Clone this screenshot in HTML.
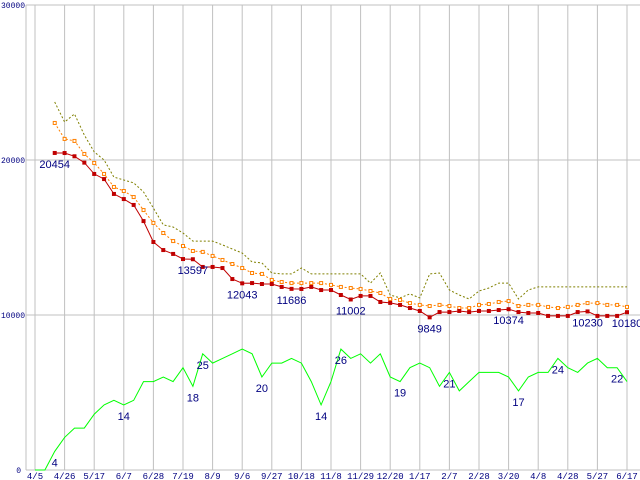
<!DOCTYPE html>
<html><head><meta charset="utf-8"><style>
html,body{margin:0;padding:0;background:#fff;}
svg{display:block;font-family:"Liberation Sans",sans-serif;}
</style></head><body>
<svg id="chart" width="640" height="480" viewBox="0 0 640 480" xmlns="http://www.w3.org/2000/svg"></svg>
<script>
const xTickLabels=["4/5","4/26","5/17","6/7","6/28","7/19","8/9","9/6","9/27","10/18","11/8","11/29","12/20","1/17","2/7","2/28","3/20","4/8","4/28","5/27","6/17"];
const yTicks=[0,10000,20000,30000];
const redValues=[null,null,20454,20450,20240,19830,19100,18770,17810,17480,17100,16060,14710,14190,13940,13610,13597,13100,13100,13030,12320,12043,12060,12000,12000,11810,11686,11680,11810,11610,11610,11290,11002,11230,11230,10840,10780,10650,10450,10260,9849,10190,10190,10260,10190,10260,10260,10320,10374,10190,10130,10130,9940,9940,9940,10190,10230,9940,9940,9940,10180];
const orangeValues=[null,null,22390,21360,21230,20390,19810,19100,18260,18000,17610,16770,15940,15290,14770,14450,14130,14070,13810,13550,13290,13030,12710,12650,12260,12130,12060,12060,12060,12060,11940,11810,11740,11680,11550,11420,11030,10970,10770,10650,10580,10650,10580,10450,10450,10650,10710,10840,10900,10580,10650,10650,10520,10450,10520,10650,10770,10770,10650,10650,10520];
const oliveValues=[null,null,23740,22450,22970,21610,20520,20000,18900,18710,18520,17940,16900,15810,15680,15290,14770,14770,14770,14520,14260,14000,13420,13360,12710,12650,12650,13030,12650,12650,12650,12650,12650,12650,12060,12710,11290,11100,11360,11100,12650,12710,11610,11290,11030,11550,11740,12060,12060,11030,11610,11810,11810,11810,11810,11810,11810,11810,11810,11810,11810];
const greenValues=[0,0,4,7,9,9,12,14,15,14,15,19,19,20,19,22,18,25,23,24,25,26,25,20,23,23,24,23,19,14,19,26,24,25,23,25,20,19,22,23,22,18,21,17,19,21,21,21,20,17,20,21,21,24,22,21,23,24,22,22,19];
const redLabelIdx=[2,16,21,26,32,40,48,56,60];
const greenLabelIdx=[2,9,16,17,23,29,31,37,42,49,53,59];

const svg=document.getElementById('chart');
const NS='http://www.w3.org/2000/svg';
const X0=35,STEP=(627-35)/60,Y0=470,YTOP=5,YMAX=30000,GK=4.65;
function xs(i){return X0+STEP*i;}
function ys(v){return Y0-(v/YMAX)*(Y0-YTOP);}
function yg(v){return Y0-v*GK;}
function mk(tag,attrs){const e=document.createElementNS(NS,tag);for(const k in attrs)e.setAttribute(k,attrs[k]);svg.appendChild(e);return e;}

yTicks.forEach(function(t){
  const l=mk('line',{x1:26,x2:640,y1:ys(t),y2:ys(t),stroke:'#c0c0c0','stroke-width':1});
  
  
  const tx=mk('text',{x:t===0?21:25,y:ys(t)+3,'text-anchor':'end','font-size':8,fill:'#000080','font-family':'Liberation Mono, monospace'});
  tx.textContent=String(t);
  
  
});
const ax=mk('line',{x1:26,x2:26,y1:YTOP,y2:Y0,stroke:'#c0c0c0','stroke-width':1});


xTickLabels.forEach(function(lab,k){
  const x=xs(k*3);
  const l=mk('line',{x1:x,x2:x,y1:YTOP,y2:Y0,stroke:'#c0c0c0','stroke-width':1});
  
  
  const tx=mk('text',{x:x,y:479,'text-anchor':'middle','font-size':9,fill:'#000080','font-family':'Liberation Mono, monospace'});
  tx.textContent=lab;
  
  
});

function pts(arr,f){const p=[];arr.forEach(function(v,i){if(v!==null)p.push(xs(i).toFixed(1)+','+f(v).toFixed(1));});return p.join(' ');}

const ol=mk('polyline',{points:pts(oliveValues,ys),fill:'none',stroke:'#808000','stroke-width':1,'stroke-dasharray':'2,2'});



const orl=mk('polyline',{points:pts(orangeValues,ys),fill:'none',stroke:'#ff8000','stroke-width':1,'stroke-dasharray':'2,2'});


orangeValues.forEach(function(v,i){if(v===null)return;
  const r=mk('rect',{x:xs(i)-1.5,y:ys(v)-1.5,width:3,height:3,fill:'#fff',stroke:'#ff8000','stroke-width':1});
  
  
});

const rl=mk('polyline',{points:pts(redValues,ys),fill:'none',stroke:'#c00000','stroke-width':1});


redValues.forEach(function(v,i){if(v===null)return;
  const r=mk('rect',{x:xs(i)-2,y:ys(v)-2,width:4,height:4,fill:'#c00000'});
  
  
});

const gl=mk('polyline',{points:pts(greenValues,yg),fill:'none',stroke:'#00ff00','stroke-width':1});



redLabelIdx.forEach(function(i){
  const t=mk('text',{x:xs(i),y:ys(redValues[i])+15,'text-anchor':'middle','font-size':11,fill:'#000080'});
  t.textContent=String(redValues[i]);
  
  
});
greenLabelIdx.forEach(function(i){
  const t=mk('text',{x:xs(i),y:yg(greenValues[i])+15,'text-anchor':'middle','font-size':11,fill:'#000080'});
  t.textContent=String(greenValues[i]);
  
  
});
</script>
</body></html>
